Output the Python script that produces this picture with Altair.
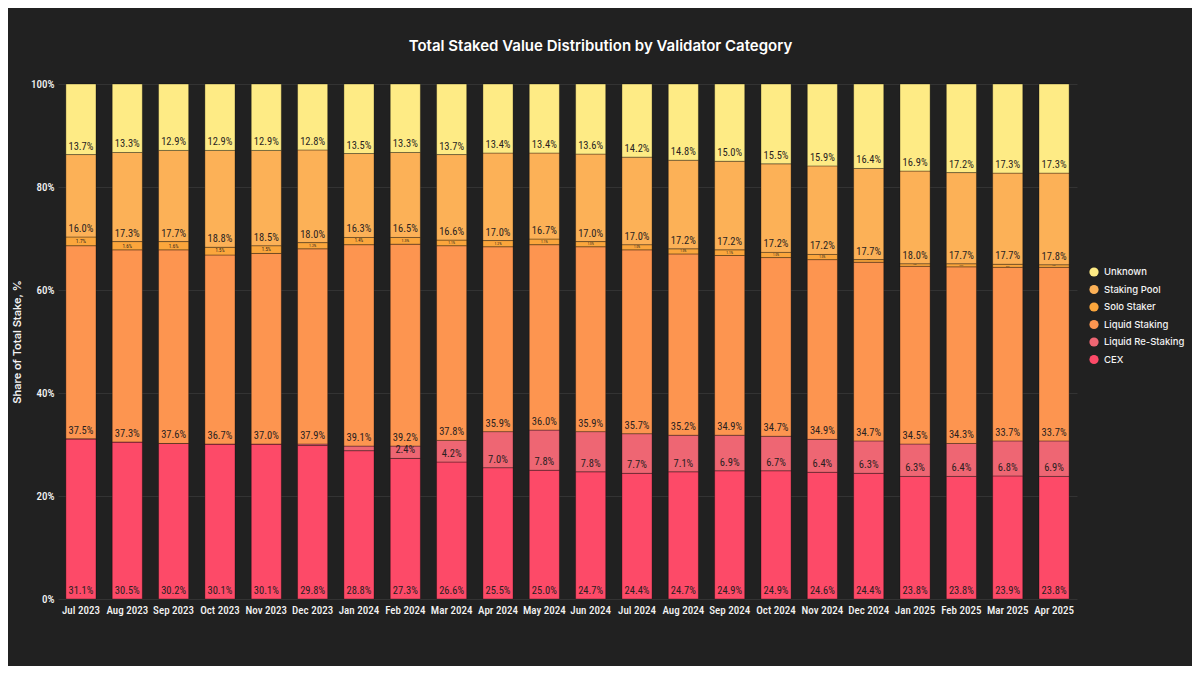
import altair as alt
import pandas as pd

months = ["Jul 2023", "Aug 2023", "Sep 2023", "Oct 2023", "Nov 2023", "Dec 2023",
          "Jan 2024", "Feb 2024", "Mar 2024", "Apr 2024", "May 2024", "Jun 2024",
          "Jul 2024", "Aug 2024", "Sep 2024", "Oct 2024", "Nov 2024", "Dec 2024",
          "Jan 2025", "Feb 2025", "Mar 2025", "Apr 2025"]

cex = [31.1, 30.5, 30.2, 30.1, 30.1, 29.8, 28.8, 27.3, 26.6, 25.5, 25.0, 24.7,
       24.4, 24.7, 24.9, 24.9, 24.6, 24.4, 23.8, 23.8, 23.9, 23.8]
liquid_restaking = [0.0, 0.0, 0.0, 0.0, 0.0, 0.3, 0.9, 2.4, 4.2, 7.0, 7.8, 7.8,
                    7.7, 7.1, 6.9, 6.7, 6.4, 6.3, 6.3, 6.4, 6.8, 6.9]
liquid_staking = [37.5, 37.3, 37.6, 36.7, 37.0, 37.9, 39.1, 39.2, 37.8, 35.9, 36.0, 35.9,
                  35.7, 35.2, 34.9, 34.7, 34.9, 34.7, 34.5, 34.3, 33.7, 33.7]
solo_staker = [1.7, 1.6, 1.6, 1.5, 1.5, 1.2, 1.4, 1.3, 1.1, 1.2, 1.1, 1.0,
               1.0, 1.0, 1.1, 1.0, 1.0, 0.5, 0.5, 0.6, 0.6, 0.5]
staking_pool = [16.0, 17.3, 17.7, 18.8, 18.5, 18.0, 16.3, 16.5, 16.6, 17.0, 16.7, 17.0,
                17.0, 17.2, 17.2, 17.2, 17.2, 17.7, 18.0, 17.7, 17.7, 17.8]
unknown = [13.7, 13.3, 12.9, 12.9, 12.9, 12.8, 13.5, 13.3, 13.7, 13.4, 13.4, 13.6,
           14.2, 14.8, 15.0, 15.5, 15.9, 16.4, 16.9, 17.2, 17.3, 17.3]

categories = ["Unknown", "Staking Pool", "Solo Staker", "Liquid Staking", "Liquid Re-Staking", "CEX"]
colors = ["#FEEB85", "#FCB157", "#FBA63C", "#FD9550", "#EE6673", "#FD4A68"]
series = {"CEX": cex, "Liquid Re-Staking": liquid_restaking, "Liquid Staking": liquid_staking,
          "Solo Staker": solo_staker, "Staking Pool": staking_pool, "Unknown": unknown}
stack_rank = {"CEX": 0, "Liquid Re-Staking": 1, "Liquid Staking": 2,
              "Solo Staker": 3, "Staking Pool": 4, "Unknown": 5}

rows = []
for cat, vals in series.items():
    for m, v in zip(months, vals):
        rows.append({"month": m, "category": cat, "value": v, "rank": stack_rank[cat]})
df = pd.DataFrame(rows)

BG = "#212121"
LABEL_FONT = "Roboto Condensed, Liberation Sans Narrow, DejaVu Sans Condensed, Roboto"

base = alt.Chart(df).transform_stack(
    stack="value", groupby=["month"], as_=["y0", "y1"],
    sort=[alt.SortField("rank", order="ascending")], offset="normalize"
).transform_calculate(
    label="format(datum.value, '.1f') + '%'",
    ymid="(datum.y0 + datum.y1) / 2",
    fs="min(7, datum.value * 3.2)"
)

xenc = alt.X("month:N", sort=months, title=None,
             scale=alt.Scale(paddingInner=0.35, paddingOuter=0.17),
             axis=alt.Axis(labelAngle=0, labelColor="#f2f2f2", labelFontSize=11,
                           labelFont=LABEL_FONT, labelFontWeight=500, ticks=False,
                           domain=False, labelPadding=5, grid=False))

bars = base.mark_bar(stroke="#000000", strokeOpacity=0.4, strokeWidth=0.8).encode(
    x=xenc,
    y=alt.Y("y0:Q", title="Share of Total Stake, %",
            scale=alt.Scale(domain=[0, 1], nice=False),
            axis=alt.Axis(format=".0%", values=[0, 0.2, 0.4, 0.6, 0.8, 1.0],
                          labelColor="#f2f2f2", labelFontSize=11, labelFont=LABEL_FONT,
                          labelFontWeight=500,
                          ticks=False, domain=False, gridColor="#333333", gridWidth=1,
                          titleColor="#f2f2f2", titleFontSize=11, titleFont="Inter",
                          titleFontWeight=600, titlePadding=8, labelPadding=4)),
    y2="y1:Q",
    color=alt.Color("category:N", scale=alt.Scale(domain=categories, range=colors),
                    legend=alt.Legend(title=None, orient="none", legendX=1031, legendY=183,
                                      symbolType="circle", symbolSize=85,
                                      symbolStrokeWidth=0, labelColor="#f2f2f2",
                                      labelFontSize=9.5, labelFont="Inter",
                                      labelFontWeight=500, rowPadding=7.5, labelOffset=5)),
    order=alt.Order("rank:Q", sort="ascending")
)

main_labels = base.transform_filter(
    "datum.category != 'Solo Staker' && datum.value >= 1.5"
).mark_text(baseline="bottom", dy=-3, color="#2a1f1f", fontSize=10.5,
            font=LABEL_FONT).encode(
    x=alt.X("month:N", sort=months),
    y="y0:Q",
    text="label:N"
)

solo_labels = base.transform_filter(
    "datum.category == 'Solo Staker'"
).mark_text(baseline="middle", color="#2a1f1f", font=LABEL_FONT).encode(
    x=alt.X("month:N", sort=months),
    y="ymid:Q",
    text="label:N",
    size=alt.Size("fs:Q", scale=None, legend=None)
)

chart = alt.layer(bars, main_labels, solo_labels).properties(
    width=1019, height=515,
    background=BG,
    autosize=alt.AutoSizeParams(type="none"),
    padding={"top": 76, "left": 50, "right": 115, "bottom": 67},
    title=alt.TitleParams("Total Staked Value Distribution by Validator Category",
                          color="#ffffff", fontSize=15, font="Inter", fontWeight=600,
                          anchor="middle", dx=33, offset=24)
).configure_view(stroke=None).configure_axis(gridColor="#333333")

chart.save("out.html", embed_options={"renderer": "svg", "actions": False})
